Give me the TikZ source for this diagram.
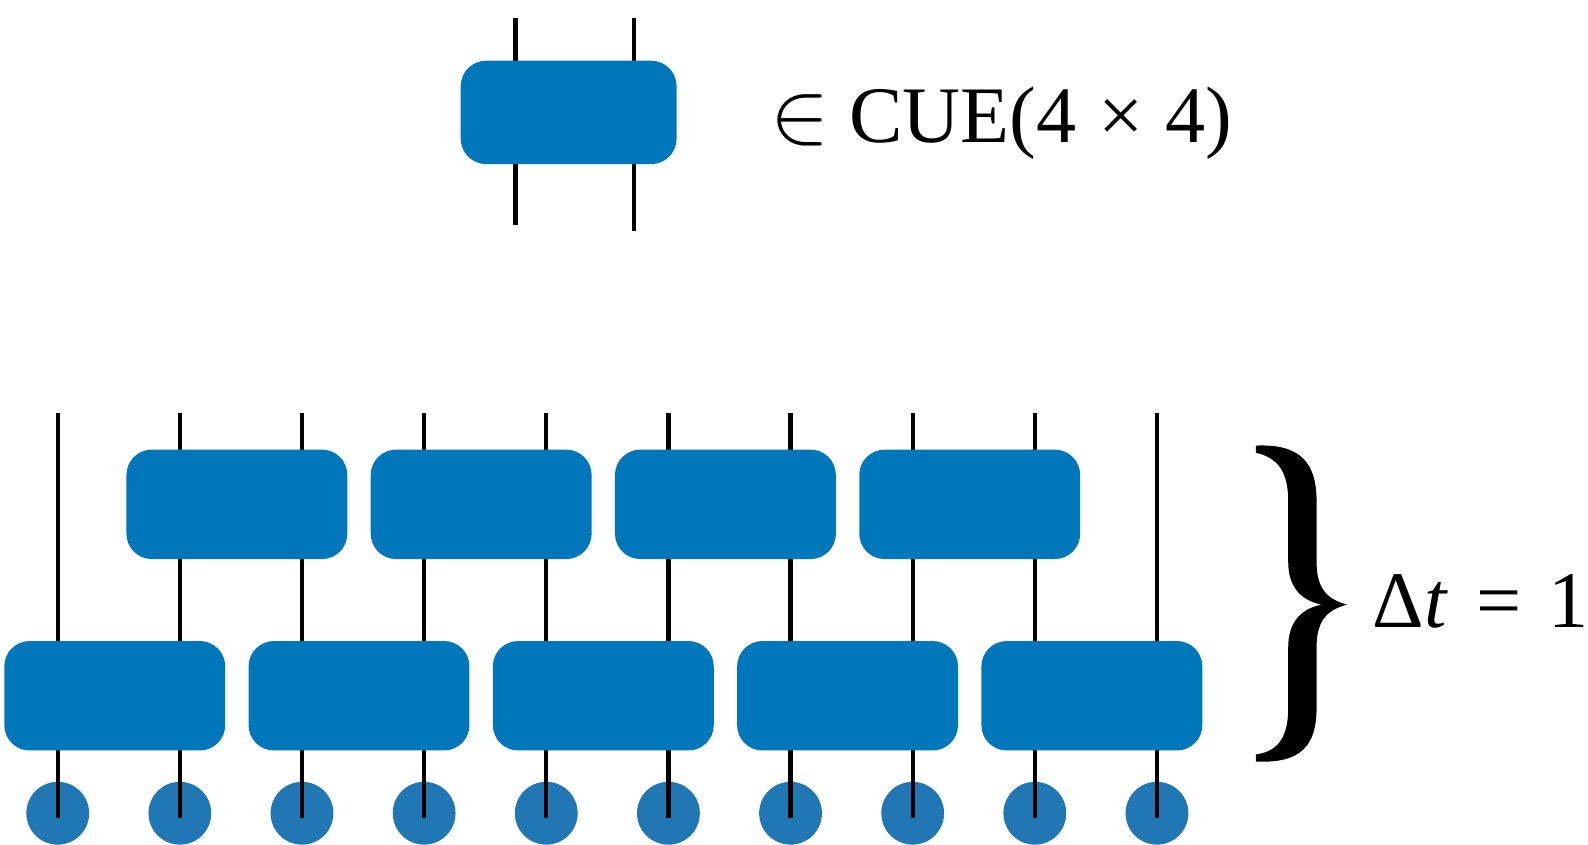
\documentclass[tikz,border=0pt]{standalone}
\usepackage{fontspec}
\setmainfont{Liberation Serif}
\usepackage{xcolor}
\usetikzlibrary{
    positioning,
    calc,
}
\definecolor{gateblue}{RGB}{0,118,187}
\definecolor{siteblue}{RGB}{33,119,180}
\tikzset{
    gate/.style={fill=gateblue,draw=none,rounded corners=0.25cm,
                 minimum width=2.18cm,minimum height=1.08cm,inner sep=0pt},
    site/.style={circle,fill=siteblue,minimum size=0.62cm,inner sep=0pt},
    wire/.style={line width=1.2pt,black},
    label/.style={anchor=base west,inner sep=0pt,font=\fontsize{22.5}{27}\selectfont},
}

\begin{document}
\begin{tikzpicture}[x=0.01cm,y=-0.01cm]
    \useasboundingbox (0,0) rectangle (1568,834);
    \pgfmathsetmacro\First{57}
    \pgfmathsetmacro\Step{120.6}
    \pgfmathsetmacro\WireTop{408}
    %
    %
        % Porta singola
    \coordinate (s1) at (509,18);
    \coordinate (s2) at (626,18);
    \coordinate (e1) at (509,222);
    \coordinate (e2) at (626,228);
    \draw[wire] (s1) -- (e1);
    \draw[wire] (s2) -- (e2);
    \node[gate,minimum width=2.13cm,minimum height=1.02cm] (U) at (561.5,111) {};
    \node[label] (cue) at (760,141)
        {\scalebox{1.2}{$\in$} CUE(4\hspace{0.02em} × \hspace{0.02em}4)};
    %
    %
        % Stati iniziali e fili
    \foreach \i in {0,...,9}{
        \node[site] (c\i) at ({\First+\i*\Step},803) {};
        \coordinate (w\i) at ({\First+\i*\Step},\WireTop);
        \draw[wire] (w\i) -- ([yshift=-0.05cm]c\i.center);
    }
    %
        % Strato inferiore
    \foreach \i in {0,...,4}{
        \node[gate] (L\i) at ({\First+(2*\i+0.5)*\Step-4},687) {};
    }
    %
        % Strato superiore
    \foreach \i in {0,...,3}{
        \node[gate] (H\i) at ({\First+(2*\i+1.5)*\Step-4},498) {};
    }
    %
    %
        % Parentesi
    \fill (1240,440) .. controls (1285,438) and (1300,458) .. (1300,495)
        -- (1300,555) .. controls (1300,583) and (1312,592) .. (1330,597)
        .. controls (1312,602) and (1300,611) .. (1300,639)
        -- (1300,699) .. controls (1300,736) and (1285,754) .. (1240,752)
        -- (1240,745) .. controls (1262,742) and (1272,728) .. (1272,699)
        -- (1272,639) .. controls (1272,614) and (1285,601) .. (1305,597)
        .. controls (1285,593) and (1272,580) .. (1272,555)
        -- (1272,495) .. controls (1272,466) and (1262,452) .. (1240,447)
        -- cycle;
    \node[label] (dt) at (1355,620) {Δ\textit{t}\hspace{0.1em} = \hspace{0.08em}1};
\end{tikzpicture}
\end{document}
